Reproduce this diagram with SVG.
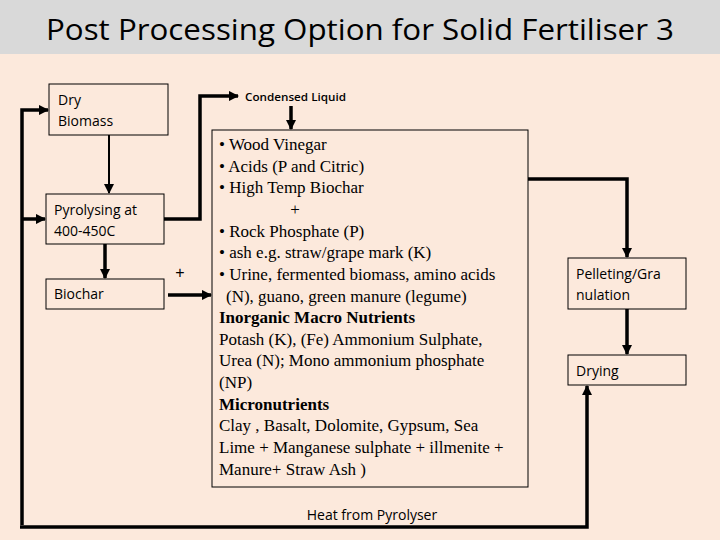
<svg xmlns="http://www.w3.org/2000/svg" width="720" height="540" viewBox="0 0 720 540">
<defs>
<marker id="ah2" viewBox="0 0 10 10" refX="9" refY="5" markerWidth="3" markerHeight="3" orient="auto" markerUnits="strokeWidth"><path d="M0,0 L10,5 L0,10 z" fill="#000"/></marker>
<marker id="ah" viewBox="0 0 10 10" refX="9" refY="5" markerWidth="5" markerHeight="5" orient="auto" markerUnits="strokeWidth"><path d="M0,0 L10,5 L0,10 z" fill="#000"/></marker>
</defs>
<style>
.box{fill:#fce9dc;stroke:#000;stroke-width:1}
.lbl{font-family:"Open Sans","Liberation Sans",sans-serif;font-size:14px;fill:#000}
.ser{font-family:"Liberation Serif",serif;font-size:17px;fill:#000}
.c{fill:none;stroke:#000;stroke-width:3.5}
.t{fill:none;stroke:#000;stroke-width:2}
</style>
<rect x="0" y="0" width="720" height="540" fill="#fce9dc"/>
<rect x="0" y="0" width="720" height="54" fill="#d9d9d9"/>
<text x="360" y="40" text-anchor="middle" font-family="'Open Sans','Liberation Sans',sans-serif" font-size="29" textLength="628" lengthAdjust="spacingAndGlyphs">Post Processing Option for Solid Fertiliser 3</text>
<g id="connectors">
<path class="c" d="M22,525 V110 H48" marker-end="url(#ah2)"/>
<path class="c" d="M22,219 H45" marker-end="url(#ah2)"/>
<path class="t" d="M109,135 V193" marker-end="url(#ah)"/>
<path class="c" d="M105,244 V278" marker-end="url(#ah2)"/>
<path class="c" d="M164,219 H200 V96 H238" marker-end="url(#ah2)"/>
<path class="c" d="M291,106 V129" marker-end="url(#ah2)"/>
<path class="c" d="M168,295 H211" marker-end="url(#ah2)"/>
<path class="c" d="M528,179 H627 V257" marker-end="url(#ah2)"/>
<path class="c" d="M627,309 V354" marker-end="url(#ah2)"/>
<path class="c" d="M20,527 H587 V386" marker-end="url(#ah2)"/>
</g>
<g id="dry"><rect class="box" x="49" y="84" width="119" height="51"/><text class="lbl" x="58" y="105">Dry</text><text class="lbl" x="58" y="126">Biomass</text></g>
<g id="pyro"><rect class="box" x="46" y="194" width="118" height="50"/><text class="lbl" x="54" y="215">Pyrolysing at</text><text class="lbl" x="54" y="236">400-450C</text></g>
<g id="biochar"><rect class="box" x="46" y="279" width="118" height="30"/><text class="lbl" x="54" y="299">Biochar</text></g>
<g id="condensed"><text x="245" y="101" font-family="'Open Sans','Liberation Sans',sans-serif" font-size="11.5" font-weight="600" textLength="101" lengthAdjust="spacingAndGlyphs">Condensed Liquid</text></g>
<text x="180" y="278" text-anchor="middle" font-family="'Liberation Sans',sans-serif" font-size="16">+</text>
<g id="main"><rect class="box" x="212" y="130" width="316" height="357"/>
<text class="ser" x="219" y="150">• Wood Vinegar</text>
<text class="ser" x="219" y="172">• Acids (P and Citric)</text>
<text class="ser" x="219" y="193">• High Temp Biochar</text>
<text class="ser" x="295" y="215" text-anchor="middle">+</text>
<text class="ser" x="219" y="237">• Rock Phosphate (P)</text>
<text class="ser" x="219" y="258">• ash e.g. straw/grape mark (K)</text>
<text class="ser" x="219" y="280">• Urine, fermented biomass, amino acids</text>
<text class="ser" x="226" y="302">(N), guano, green manure (legume)</text>
<text class="ser" x="219" y="323" font-weight="bold">Inorganic Macro Nutrients</text>
<text class="ser" x="219" y="345">Potash (K), (Fe) Ammonium Sulphate,</text>
<text class="ser" x="219" y="366">Urea (N); Mono ammonium phosphate</text>
<text class="ser" x="219" y="388">(NP)</text>
<text class="ser" x="219" y="410" font-weight="bold">Micronutrients</text>
<text class="ser" x="219" y="431">Clay , Basalt, Dolomite, Gypsum, Sea</text>
<text class="ser" x="219" y="453">Lime + Manganese sulphate + illmenite +</text>
<text class="ser" x="219" y="475">Manure+ Straw Ash )</text>
</g>
<g id="pellet"><rect class="box" x="568" y="258" width="118" height="51"/><text class="lbl" x="576" y="279">Pelleting/Gra</text><text class="lbl" x="576" y="300">nulation</text></g>
<g id="drying"><rect class="box" x="568" y="355" width="118" height="30"/><text class="lbl" x="576" y="376">Drying</text></g>
<g id="heat"><text class="lbl" x="372" y="520" text-anchor="middle">Heat from Pyrolyser</text></g>
</svg>
